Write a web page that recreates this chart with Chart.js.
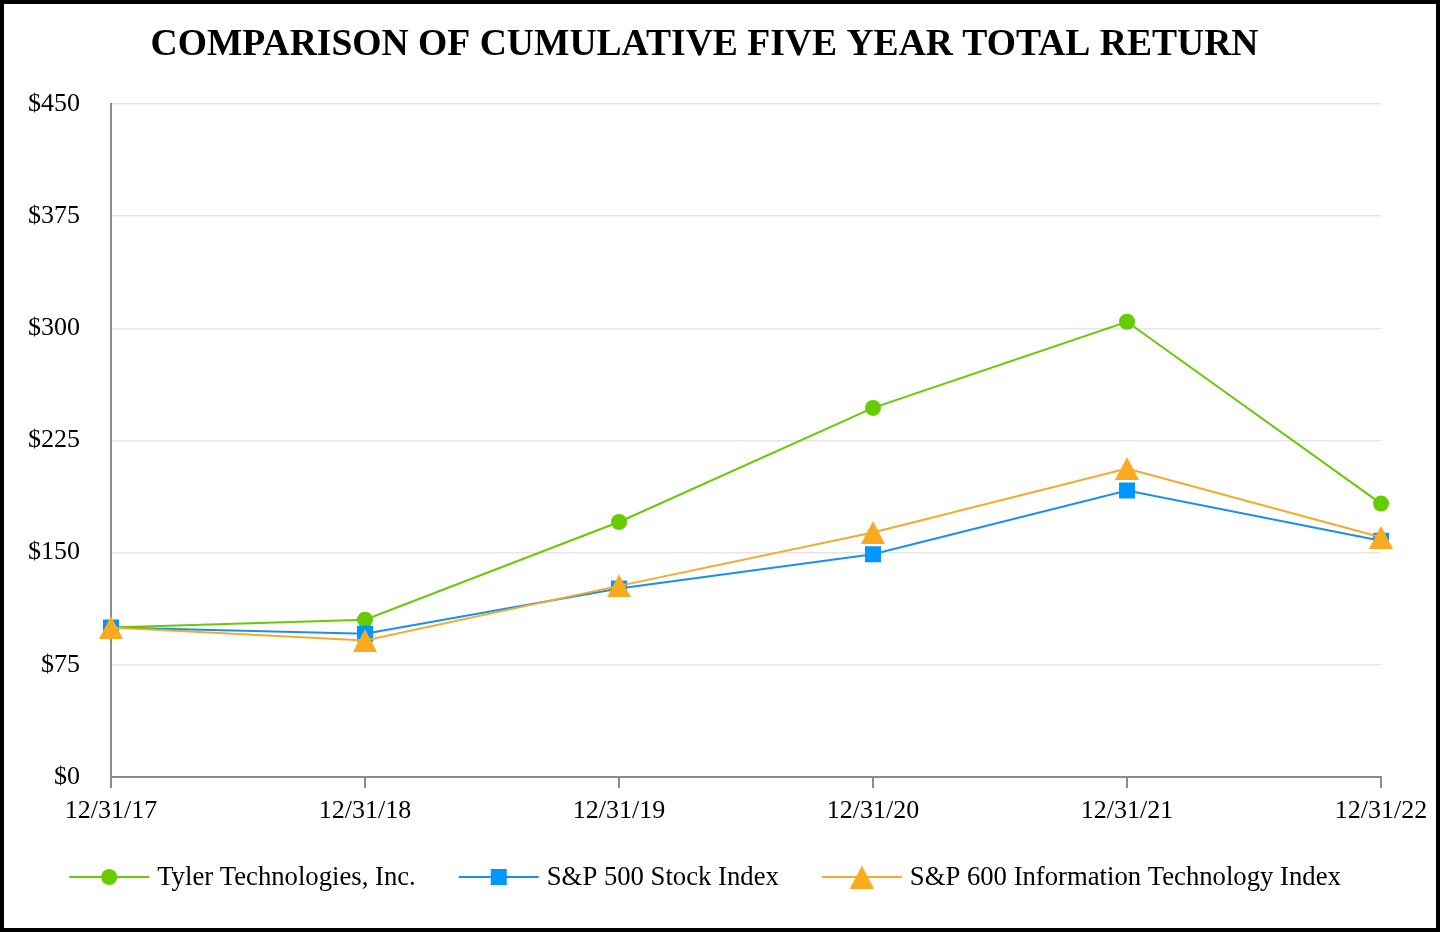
<!DOCTYPE html>
<html><head><meta charset="utf-8">
<script src="https://cdn.jsdelivr.net/npm/chart.js@4.4.1/dist/chart.umd.min.js"></script>
<style>html,body{margin:0;padding:0;background:#fff}canvas{display:block}</style>
</head><body>
<canvas id="c" width="1440" height="932"></canvas>
<script>
const categories = ['12/31/17','12/31/18','12/31/19','12/31/20','12/31/21','12/31/22'];
const tylerValues = [100, 105.2, 170.5, 246.8, 304.4, 182.8];
const sp500Values = [100, 95.8, 126.0, 149.0, 191.6, 158.0];
const sp600ItValues = [100, 91.3, 127.8, 163.5, 206.3, 160.3];
const yTickValues = [0, 75, 150, 225, 300, 375, 450];
const seriesNames = ['Tyler Technologies, Inc.', 'S&P 500 Stock Index', 'S&P 600 Information Technology Index'];
const titleText = 'COMPARISON OF CUMULATIVE FIVE YEAR TOTAL RETURN';

const FONT = "'Liberation Serif','Times New Roman',serif";
const GREEN = '#66cc00', BLUE = '#0096ff', ORANGE = '#fbaa1f';
const LINE_BLUE = '#1a90ee', LINE_ORANGE = '#f5ab2a';
const AXIS = '#8c8c8c';

function makeTriangle(w, h, color) {
  const c = document.createElement('canvas'); c.width = w; c.height = h;
  const x = c.getContext('2d'); x.fillStyle = color;
  x.beginPath(); x.moveTo(w / 2, 0); x.lineTo(w, h); x.lineTo(0, h); x.closePath(); x.fill();
  return c;
}
const tri = makeTriangle(24, 23, ORANGE);

const mctx = document.createElement('canvas').getContext('2d');
mctx.font = "bold 100px " + FONT;
let titleSize = 100 * 1108 / mctx.measureText(titleText).width;
if (!(titleSize > 32 && titleSize < 42)) titleSize = 37;
const padTop = 10;
const tTop = 45 - padTop - 0.6 * titleSize;
const tBottom = 104 - padTop - tTop - 1.2 * titleSize;

const legendPlugin = {
  id: 'customLegend',
  afterDraw(chart) {
    const ctx = chart.ctx; ctx.save();
    ctx.font = '26.7px ' + FONT; ctx.textBaseline = 'middle';
    const ds = chart.data.datasets;
    const lineLen = 80, textGap = 8, itemGap = 43, cy = 877, cx = 705;
    const widths = ds.map(d => ctx.measureText(d.label).width);
    const total = widths.reduce((a, w) => a + lineLen + textGap + w, 0) + itemGap * (ds.length - 1);
    let x = cx - total / 2;
    ds.forEach((d, i) => {
      ctx.strokeStyle = d.borderColor; ctx.lineWidth = 2;
      ctx.beginPath(); ctx.moveTo(x, cy); ctx.lineTo(x + lineLen, cy); ctx.stroke();
      const mx = x + lineLen / 2;
      ctx.fillStyle = d.pointBackgroundColor;
      if (d.pointStyle === 'circle') { ctx.beginPath(); ctx.arc(mx, cy, d.pointRadius, 0, Math.PI * 2); ctx.fill(); }
      else if (d.pointStyle === 'rect') { const s = d.pointRadius * Math.SQRT1_2; ctx.fillRect(mx - s, cy - s, 2 * s, 2 * s); }
      else if (d.pointStyle instanceof HTMLCanvasElement) { ctx.drawImage(d.pointStyle, mx - d.pointStyle.width / 2, cy - d.pointStyle.height / 2); }
      ctx.fillStyle = '#000';
      ctx.fillText(d.label, x + lineLen + textGap, cy + 1);
      x += lineLen + textGap + widths[i] + itemGap;
    });
    ctx.strokeStyle = '#000'; ctx.lineWidth = 4; ctx.strokeRect(2, 2, 1436, 928);
    ctx.restore();
  }
};

new Chart(document.getElementById('c'), {
  type: 'line',
  data: {
    labels: categories,
    datasets: [
      { label: seriesNames[0], data: tylerValues, borderColor: GREEN, backgroundColor: GREEN, borderWidth: 2,
        pointStyle: 'circle', pointRadius: 8, pointBackgroundColor: GREEN, pointBorderWidth: 0, order: 3 },
      { label: seriesNames[1], data: sp500Values, borderColor: LINE_BLUE, backgroundColor: BLUE, borderWidth: 2,
        pointStyle: 'rect', pointRadius: 11.3, pointBackgroundColor: BLUE, pointBorderWidth: 0, order: 2 },
      { label: seriesNames[2], data: sp600ItValues, borderColor: LINE_ORANGE, backgroundColor: ORANGE, borderWidth: 2,
        pointStyle: tri, pointRadius: 12, pointBackgroundColor: ORANGE, pointBorderWidth: 0, order: 1 }
    ]
  },
  options: {
    responsive: false, animation: false,
    layout: { padding: { top: padTop, left: 28, right: 59, bottom: 95 } },
    plugins: {
      legend: { display: false },
      tooltip: { enabled: false },
      title: { display: true, text: titleText, color: '#000',
        font: { family: FONT, size: titleSize, weight: 'bold', lineHeight: 1.2 },
        padding: { top: tTop, bottom: tBottom } }
    },
    scales: {
      x: {
        type: 'category', offset: false,
        grid: { display: true, drawOnChartArea: false, drawTicks: true, tickLength: 11, color: AXIS, lineWidth: 2 },
        border: { display: true, color: AXIS, width: 2 },
        ticks: { color: '#000', font: { family: FONT, size: 26 }, padding: 8, maxRotation: 0, autoSkip: false },
        afterFit: s => { s.height = 60; }
      },
      y: {
        min: 0, max: 450,
        afterBuildTicks: s => { s.ticks = yTickValues.map(v => ({ value: v })); },
        grid: { color: '#e6e6e6', lineWidth: 1.5, drawTicks: false, z: -1 },
        border: { display: true, color: AXIS, width: 2 },
        ticks: { color: '#000', font: { family: FONT, size: 26 }, padding: 31, callback: v => '$' + v },
        afterFit: s => { s.width = 83; }
      }
    }
  },
  plugins: [legendPlugin]
});
</script>
</body></html>
